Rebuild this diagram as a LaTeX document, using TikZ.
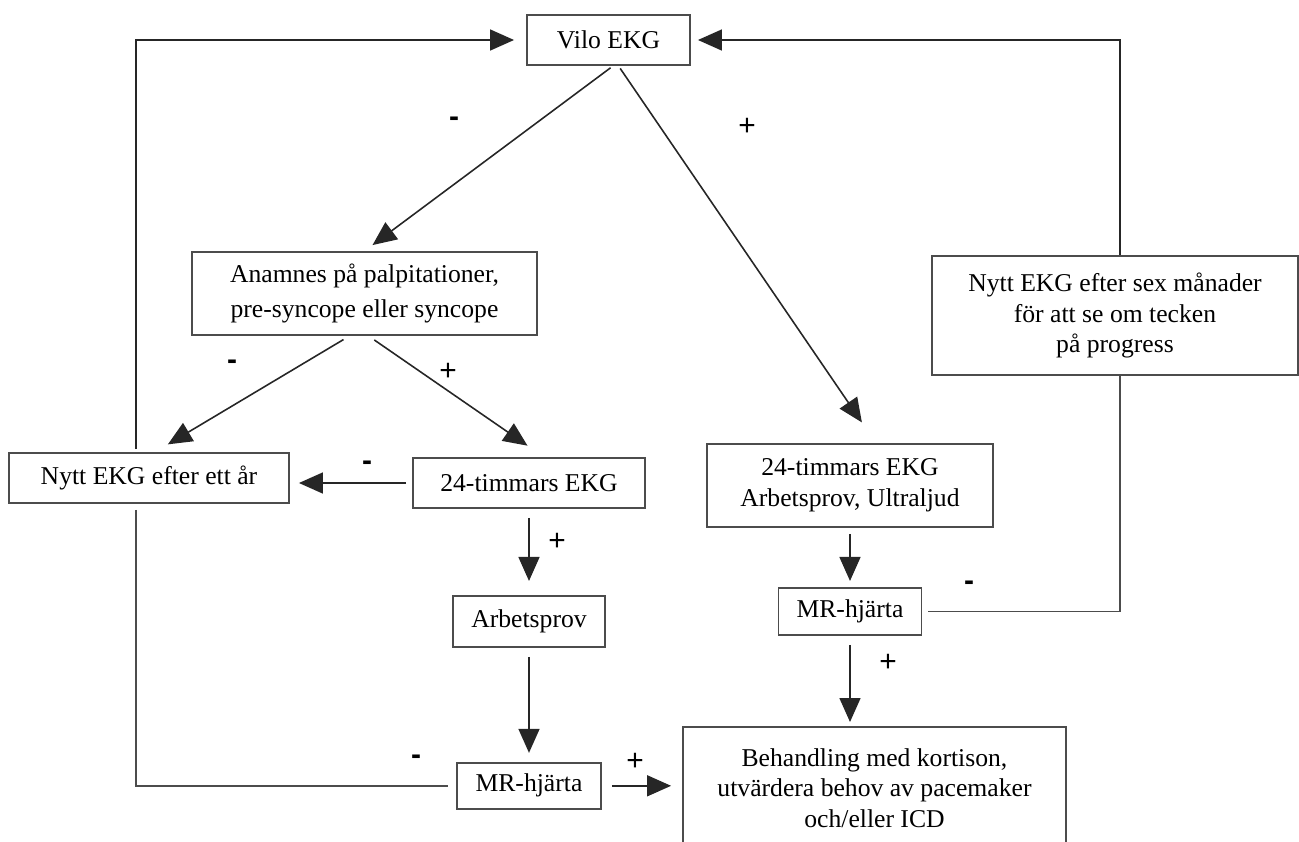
\documentclass[tikz,border=0pt]{standalone}
\usepackage{fontspec}
\setmainfont{Liberation Serif}
\newfontfamily\signfont{Liberation Sans}
\usetikzlibrary{arrows.meta,positioning}

\begin{document}
\begin{tikzpicture}[x=0.02cm,y=-0.02cm]
        \tikzstyle{box}=[rectangle, draw=black!70, line width=1.1pt, align=center, inner sep=0pt, font=\fontsize{14.6}{17.4}\selectfont]
        \tikzstyle{connect}=[-{Triangle[length=4.8mm,width=4.2mm]}, line width=0.9pt, draw=black!85]
        \tikzstyle{plain}=[line width=0.9pt, draw=black!70]
        \tikzstyle{sgn}=[inner sep=0pt, font=\signfont\fontsize{17}{17}\selectfont]
        \clip (0,0) rectangle (1299,842);
        \node[box,minimum width=3.26cm,minimum height=1cm] (vilo) at (608.5,40) {Vilo EKG};
        \node[box,minimum width=6.9cm,minimum height=1.66cm] (anam) at (364.5,293.5) {Anamnes på palpitationer,\\[3pt]pre-syncope eller syncope};
        \node[box,minimum width=5.6cm,minimum height=1cm] (nyttar) at (149,478) {Nytt EKG efter ett år};
        \node[box,minimum width=4.64cm,minimum height=1cm] (tim24) at (529,483) {24-timmars EKG};
        \node[box,minimum width=3.04cm,minimum height=1.02cm] (arbets) [below=1.72cm of tim24] {Arbetsprov};
        \node[box,minimum width=2.88cm,minimum height=0.92cm] (mrL) [below=2.28cm of arbets] {MR-hjärta};
        \node[box,minimum width=5.72cm,minimum height=1.66cm] (tim24r) at (850,485.5) {24-timmars EKG\\Arbetsprov, Ultraljud};
        \node[box,minimum width=2.86cm,minimum height=0.94cm] (mrR) [below=1.18cm of tim24r] {MR-hjärta};
        \node[box,minimum width=7.32cm,minimum height=2.38cm] (sex) at (1115,315.5) {Nytt EKG efter sex månader\\för att se om tecken\\på progress};
        \node[box,minimum width=7.66cm,minimum height=2.44cm,anchor=north] (beh) at (874.5,726) {Behandling med kortison,\\utvärdera behov av pacemaker\\och/eller ICD};
        \node[sgn] (mvilo) at (454,122) {\bfseries -};
        \node[sgn] (pvilo) at (747,127) {+};
        \node[sgn] (manam) at (232,365) {\bfseries -};
        \node[sgn] (panam) at (448,372) {+};
        \node[sgn] (mtim) at (367,466) {\bfseries -};
        \node[sgn] (ptim) at (557,542) {+};
        \node[sgn] (mmrL) at (416,760) {\bfseries -};
        \node[sgn] (pmrL) at (635,762) {+};
        \node[sgn] (mmrR) at (969,586) {\bfseries -};
        \node[sgn] (pmrR) at (888,663) {+};
        \path ([xshift=0.09cm]vilo.south) edge [connect,shorten <=0.06cm,shorten >=0.2cm] (anam.north)
        ([xshift=0.2cm]vilo.south) edge [connect,shorten <=0.06cm,shorten >=0.5cm] ([xshift=0.52cm]tim24r.north)
        ([xshift=-0.3cm]anam.south) edge [connect,shorten <=0.14cm,shorten >=0.3cm] ([xshift=0.12cm]nyttar.north)
        ([xshift=0.08cm]anam.south) edge [connect,shorten <=0.14cm,shorten >=0.4cm] ([xshift=0.3cm]tim24.north)
        (tim24.west) edge [connect,shorten <=0.12cm,shorten >=0.18cm] (tim24.west -| nyttar.east)
        (tim24.south) edge [connect,shorten <=0.18cm,shorten >=0.28cm] (arbets.north)
        (arbets.south) edge [connect,shorten <=0.18cm,shorten >=0.18cm] (arbets.south |- mrL.north)
        (mrL.east) edge [connect,shorten <=0.2cm,shorten >=0.22cm] (mrL.east -| beh.west)
        (mrR.north |- tim24r.south) edge [connect,shorten <=0.12cm,shorten >=0.12cm] (mrR.north)
        (mrR.south) edge [connect,shorten <=0.18cm,shorten >=0.08cm] (mrR.south |- beh.north);
        \draw[connect,shorten <=0.06cm,shorten >=0.24cm] ([xshift=-0.26cm]nyttar.north) |- (vilo.west);
        \draw[plain,shorten <=0.12cm,shorten >=0.16cm] ([xshift=-0.26cm]nyttar.south) |- (mrL.west);
        \draw[connect,shorten >=0.14cm] ([xshift=0.1cm]sex.north) |- (vilo.east);
        \draw[plain,shorten <=0.12cm] (mrR.east) -| ([xshift=0.1cm]sex.south);
\end{tikzpicture}
\end{document}
